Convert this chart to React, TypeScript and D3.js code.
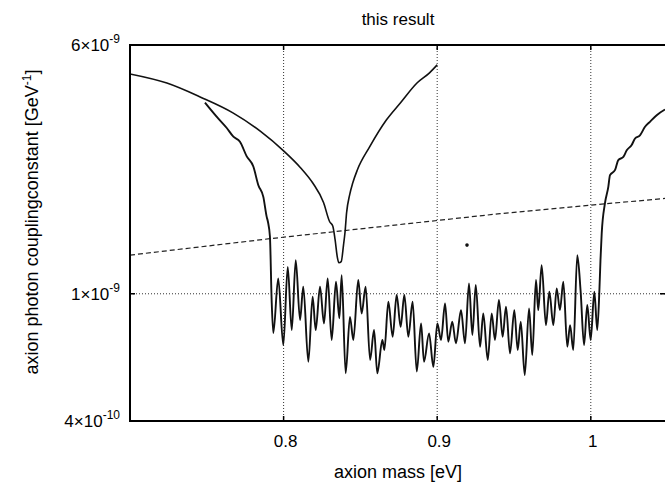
import * as d3 from "d3";

// axion mass [eV] and coupling [GeV^-1]
const prevMass = [0.7, 0.724, 0.746, 0.767, 0.785, 0.8, 0.811, 0.819, 0.826, 0.83, 0.832, 0.8335, 0.835, 0.836, 0.8375, 0.839, 0.84, 0.841, 0.843, 0.845, 0.848, 0.856, 0.867, 0.876, 0.887, 0.895, 0.9];
const prevG = [4.87, 4.56, 4.12, 3.68, 3.22, 2.8, 2.48, 2.22, 1.93, 1.68, 1.63, 1.48, 1.3, 1.25, 1.26, 1.42, 1.56, 1.79, 2.04, 2.22, 2.44, 2.88, 3.5, 3.95, 4.57, 4.91, 5.2];

const resultMass = [
  0.7488, 0.7564, 0.763, 0.7673, 0.7716, 0.776, 0.7803, 0.7835, 0.7868, 0.789, 0.7898, 0.7911, 0.7922,
  0.7933, 0.7965, 0.7998, 0.8027, 0.8053, 0.8079, 0.8107, 0.8128, 0.8161, 0.8189, 0.8209, 0.8237, 0.8263,
  0.8287, 0.8313, 0.8341, 0.8363, 0.8378, 0.8404, 0.8432, 0.8454, 0.8486, 0.8508, 0.8534, 0.8563, 0.8589,
  0.861, 0.8643, 0.8656, 0.8682, 0.871, 0.8736, 0.8762, 0.8786, 0.8812, 0.884, 0.8867, 0.8895, 0.8914,
  0.8947, 0.8975, 0.9001, 0.9025, 0.9051, 0.9072, 0.9098, 0.9122, 0.9155, 0.9181, 0.9207, 0.9229, 0.9251,
  0.9279, 0.93, 0.9329, 0.9355, 0.9376, 0.9402, 0.9426, 0.9448, 0.9474, 0.9502, 0.9524, 0.9544, 0.957,
  0.9598, 0.9619, 0.9643, 0.9658, 0.968, 0.9708, 0.973, 0.9756, 0.9778, 0.9799, 0.9821, 0.9847, 0.9865,
  0.9886, 0.9912, 0.9934, 0.9956, 0.9977, 0.9999, 1.0023, 1.0042, 1.0056, 1.0063, 1.0071, 1.0092, 1.0114,
  1.0125, 1.0158, 1.0179, 1.0212, 1.0234, 1.0266, 1.0288, 1.032, 1.0353, 1.0385, 1.0429, 1.0483,
];
const resultG = [
  3.96, 3.58, 3.3, 3.1, 2.99, 2.69, 2.5, 2.19, 2.01, 1.74, 1.68, 1.51, 0.96,
  0.754, 1.117, 0.691, 1.214, 0.77, 1.274, 0.828, 1.052, 0.613, 0.979, 0.77, 1.052, 0.808,
  1.117, 0.717, 1.09, 0.838, 1.144, 0.564, 0.847, 0.717, 1.104, 0.868, 1.052, 0.621, 0.77,
  0.564, 0.717, 0.667, 0.944, 0.734, 0.991, 0.789, 0.991, 0.734, 0.944, 0.571, 0.808, 0.613,
  0.752, 0.591, 0.808, 0.717, 0.933, 0.708, 0.818, 0.7, 0.889, 0.7, 1.078, 0.743, 1.065,
  0.683, 0.868, 0.621, 0.868, 0.717, 0.956, 0.734, 0.911, 0.651, 0.889, 0.667, 0.818, 0.557,
  0.9, 0.643, 1.104, 0.889, 1.229, 0.798, 1.015, 0.798, 1.04, 0.889, 1.09, 0.683, 0.798,
  0.667, 1.321, 1.015, 0.691, 0.922, 0.717, 1.015, 0.77, 1.027, 1.274, 1.544, 1.917, 2.16,
  2.35, 2.44, 2.62, 2.68, 2.81, 2.92, 3.06, 3.13, 3.33, 3.45, 3.62, 3.77,
];

const dashMass = [0.7, 0.7911, 0.9409, 0.9995, 1.05];
const dashG = [1.321, 1.487, 1.781, 1.893, 1.99];

const specMass = [0.9194];
const specG = [1.42];

const xTicks = [0.8, 0.9, 1];
const xTickLabels = ["0.8", "0.9", "1"];
const yTicks = [6e-9, 1e-9, 4e-10];
const yTickLabels = [["6×10", "-9"], ["1×10", "-9"], ["4×10", "-10"]];

const W = 665;
const H = 484;
const m = { left: 130, top: 45, bottom: 421, right: 667.6 };

export default function App() {
  const x = d3.scaleLinear().domain([0.7, 1.05]).range([m.left, m.right]);
  const y = d3.scaleLog().domain([4e-10, 6e-9]).range([m.bottom, m.top]);

  const toPts = (xs: number[], gs: number[]) => xs.map((v, i) => [v, gs[i] * 1e-9] as [number, number]);

  const smooth = d3
    .line<[number, number]>()
    .x((d) => x(d[0]))
    .y((d) => y(d[1]))
    .curve(d3.curveMonotoneX);
  const straight = d3
    .line<[number, number]>()
    .x((d) => x(d[0]))
    .y((d) => y(d[1]));

  const font = "'Liberation Sans', Arial, Helvetica, sans-serif";

  return (
    <svg
      width={W}
      height={H}
      style={{ position: "absolute", left: 0, top: 0, background: "#fff" }}
      fontFamily={font}
    >
      <defs>
        <clipPath id="plot">
          <rect x={m.left} y={m.top} width={W - m.left} height={m.bottom - m.top} />
        </clipPath>
      </defs>

      {/* grid */}
      {xTicks.map((t) => (
        <line key={"gx" + t} x1={x(t)} x2={x(t)} y1={m.top} y2={m.bottom} stroke="#333" strokeWidth={1} strokeDasharray="1,2" />
      ))}
      <line x1={m.left} x2={W} y1={y(1e-9)} y2={y(1e-9)} stroke="#333" strokeWidth={1} strokeDasharray="1,2" />

      <g clipPath="url(#plot)" fill="none" strokeLinejoin="round">
        <path d={straight(toPts(dashMass, dashG)) || ""} stroke="#222" strokeWidth={1.2} strokeDasharray="5,3" />
        <path d={smooth(toPts(prevMass, prevG)) || ""} stroke="#111" strokeWidth={1.6} />
        <path d={smooth(toPts(resultMass, resultG)) || ""} stroke="#111" strokeWidth={1.9} />
        {specMass.map((v, i) => (
          <circle key={"s" + i} cx={x(v)} cy={y(specG[i] * 1e-9)} r={1.8} fill="#111" stroke="none" />
        ))}
      </g>

      {/* frame */}
      <g stroke="#000" strokeWidth={2} fill="none">
        <line x1={m.left} x2={W} y1={m.top} y2={m.top} />
        <line x1={m.left} x2={W} y1={m.bottom} y2={m.bottom} />
        <line x1={m.left} x2={m.left} y1={m.top - 1} y2={m.bottom + 1} />
      </g>

      {/* ticks */}
      {xTicks.map((t) => (
        <g key={"tx" + t} stroke="#000" strokeWidth={1.5}>
          <line x1={x(t)} x2={x(t)} y1={m.bottom} y2={m.bottom - 5} />
          <line x1={x(t)} x2={x(t)} y1={m.top} y2={m.top + 5} />
        </g>
      ))}
      <line x1={m.left} x2={m.left + 5} y1={y(1e-9)} y2={y(1e-9)} stroke="#000" strokeWidth={1.5} />
      <line x1={W - 5} x2={W} y1={y(1e-9)} y2={y(1e-9)} stroke="#000" strokeWidth={1.5} />

      {xTickLabels.map((lab, i) => (
        <text key={"lx" + i} x={x(xTicks[i]) + 2} y={447} textAnchor="middle" fontSize={17} fill="#000">
          {lab}
        </text>
      ))}

      {yTicks.map((t, i) => (
        <text key={"ly" + i} x={120} y={y(t) + 6} textAnchor="end" fontSize={17} fill="#000">
          {yTickLabels[i][0]}
          <tspan dy={-8} fontSize={12}>
            {yTickLabels[i][1]}
          </tspan>
        </text>
      ))}

      <text x={398} y={25} textAnchor="middle" fontSize={17} fill="#000">
        this result
      </text>
      <text x={398} y={478} textAnchor="middle" fontSize={18} fill="#000">
        axion mass [eV]
      </text>
      <text transform="translate(38,222) rotate(-90)" textAnchor="middle" fontSize={18} fill="#000">
        axion photon couplingconstant [GeV
        <tspan dy={-7} fontSize={12}>
          -1
        </tspan>
        <tspan dy={7}>]</tspan>
      </text>
    </svg>
  );
}
